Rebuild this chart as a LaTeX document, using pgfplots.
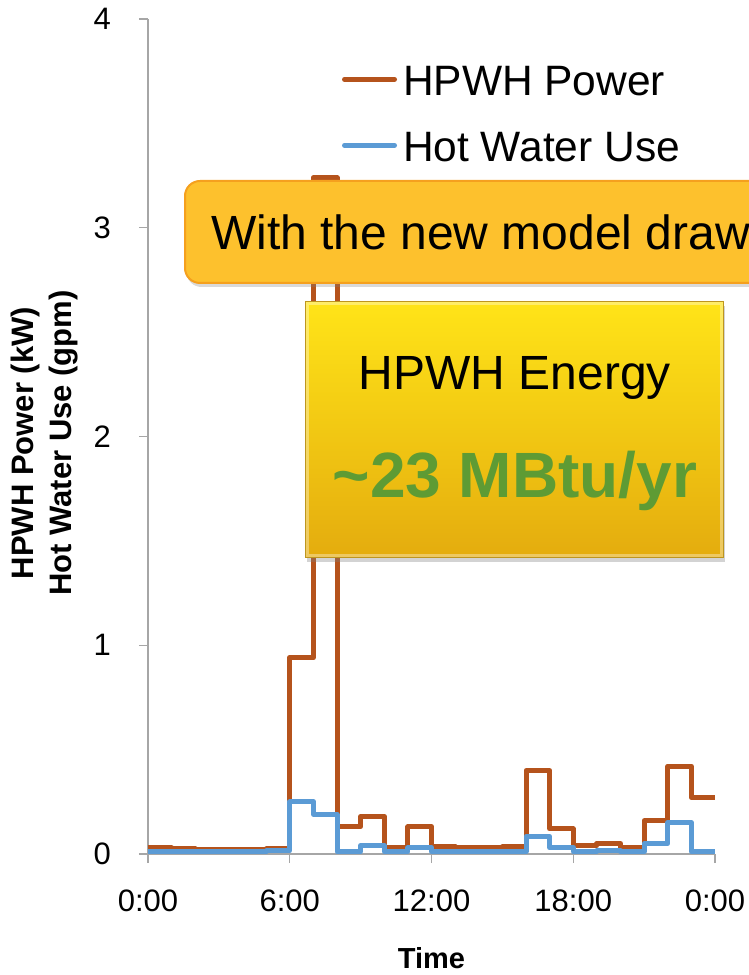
\documentclass[border=0pt]{standalone}
\usepackage{pgfplots}
\pgfplotsset{compat=1.18}
\usepackage{fontspec}
\setmainfont{Liberation Sans}
\usetikzlibrary{shadows}
\definecolor{hpwh}{RGB}{181,83,28}
\definecolor{hwu}{RGB}{91,155,213}
\definecolor{axgray}{RGB}{166,166,166}
\definecolor{call1}{RGB}{253,193,45}
\definecolor{call1b}{RGB}{245,160,30}
\definecolor{boxtop}{RGB}{255,228,24}
\definecolor{boxbot}{RGB}{228,172,14}
\definecolor{boxedge}{RGB}{190,150,30}
\definecolor{greentxt}{RGB}{94,155,52}

\begin{document}
\begin{tikzpicture}
\path[use as bounding box] (0,0) rectangle (749pt,975pt);
\begin{axis}[
  scale only axis, width=567pt, height=835pt,
  at={(148pt,121pt)}, anchor=south west,
  xmin=0, xmax=24, ymin=0, ymax=4,
  clip=false,
  axis x line*=bottom, axis y line*=left,
  axis line style={axgray, line width=1.3pt},
  xtick={0,6,12,18,24}, xticklabels={0:00,6:00,12:00,18:00,0:00},
  ytick={0,1,2,3,4},
  tick align=outside, major tick length=9pt,
  tick style={axgray, line width=1.3pt},
  /pgf/number format/assume math mode=true,
  ticklabel style={font=\fontsize{31}{36}\selectfont},
  xticklabel style={anchor=center, inner sep=0pt, yshift=-38pt},
  yticklabel style={anchor=east, inner sep=0pt, xshift=-28pt},
  xlabel={Time},
  xlabel style={at={(axis description cs:0.5,-0.1245)}, anchor=center, font=\bfseries\fontsize{29}{34}\selectfont},
  ylabel={HPWH Power (kW)\\Hot Water Use (gpm)},
  ylabel style={at={(axis description cs:-0.1817,0.4922)}, anchor=center, align=center, font=\bfseries\fontsize{31}{38}\selectfont},
  legend style={at={(axis description cs:0.3422,0.9449)}, anchor=north west, draw=none, fill=none, inner sep=0pt, outer sep=0pt, font=\fontsize{42.5}{50}\selectfont, row sep=28pt, column sep=6pt, nodes={inner sep=0pt, text height=30pt, text depth=8pt}},
  legend cell align=left,
  legend image code/.code={\draw[#1, line cap=round, line width=5pt] (2.5pt,4.7pt) -- (52.5pt,4.7pt);},
]
\addplot[const plot, hpwh, line width=5pt, line join=round] table {
x y
0 0.03
1 0.025
2 0.02
3 0.02
4 0.02
5 0.025
6 0.94
7 3.24
8 0.13
9 0.18
10 0.03
11 0.13
12 0.035
13 0.03
14 0.03
15 0.035
16 0.40
17 0.12
18 0.04
19 0.05
20 0.03
21 0.16
22 0.42
23 0.27
24 0.27
};
\addlegendentry{HPWH Power}
\addplot[const plot, hwu, line width=5pt, line join=round] table {
x y
0 0.01
1 0.01
2 0.01
3 0.01
4 0.01
5 0.015
6 0.25
7 0.19
8 0.01
9 0.04
10 0.01
11 0.03
12 0.01
13 0.01
14 0.01
15 0.01
16 0.085
17 0.03
18 0.01
19 0.015
20 0.01
21 0.05
22 0.15
23 0.01
24 0.01
};
\addlegendentry{Hot Water Use}
\end{axis}
% callout 1
\draw[call1b, line width=2pt, fill=call1, rounded corners=15pt, drop shadow={shadow xshift=1.5pt, shadow yshift=-4pt, opacity=0.3}] (185pt,692pt) rectangle (800pt,794pt);
\node[anchor=base west, inner sep=0pt, font=\fontsize{48}{57}\selectfont] at (211pt,725pt) {With the new model draw};
% box 2
\path[drop shadow={shadow xshift=2pt, shadow yshift=-4pt, opacity=0.35}, top color=boxtop, bottom color=boxbot] (305pt,417pt) rectangle (723pt,673pt);
\draw[white, opacity=0.35, line width=3pt] (307pt,419pt) rectangle (721pt,671pt);
\draw[boxedge, line width=1pt] (305pt,417pt) rectangle (723pt,673pt);
\node[anchor=base, inner sep=0pt, font=\fontsize{48}{58}\selectfont] at (515pt,585pt) {HPWH Energy};
\node[anchor=base, inner sep=0pt, font=\bfseries\fontsize{64}{76}\selectfont, text=greentxt] at (515pt,477pt) {\textasciitilde 23 MBtu/yr};
\end{tikzpicture}
\end{document}
